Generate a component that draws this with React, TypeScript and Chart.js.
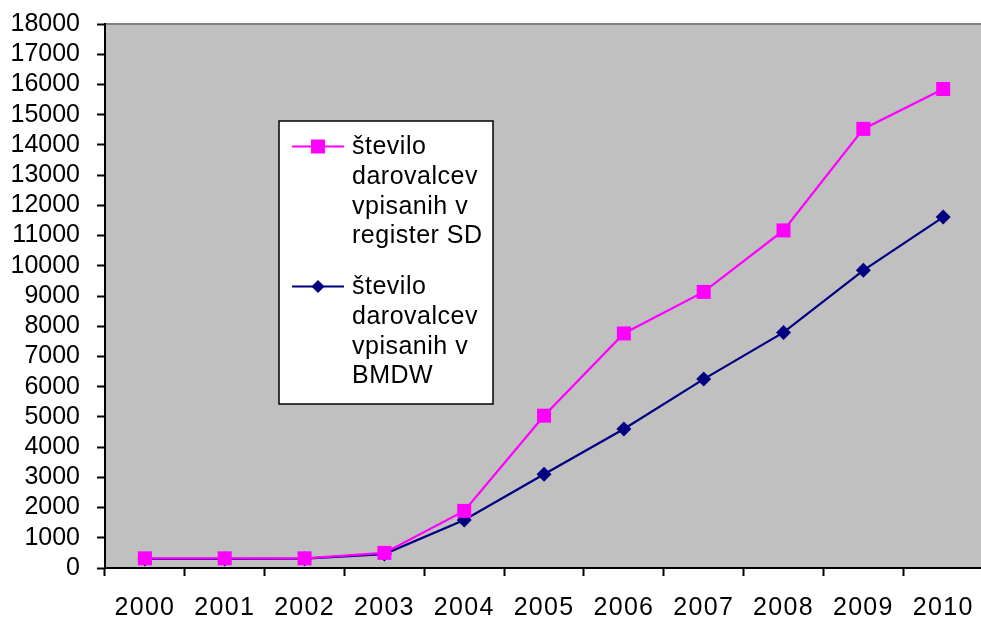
import React, { useEffect, useRef } from "react";
import { Chart, registerables } from "chart.js";

Chart.register(...registerables);

const categories = ["2000", "2001", "2002", "2003", "2004", "2005", "2006", "2007", "2008", "2009", "2010"];
const registerSD = [320, 320, 320, 500, 1890, 5040, 7760, 9135, 11170, 14530, 15850];
const registerBMDW = [300, 300, 310, 460, 1590, 3100, 4600, 6250, 7795, 9850, 11610];
const labelSD = ["število", "darovalcev", "vpisanih v", "register SD"];
const labelBMDW = ["število", "darovalcev", "vpisanih v", "BMDW"];

const FONT = "'Liberation Sans', Arial, sans-serif";
const MAGENTA = "#ff00ff";
const NAVY = "#000080";

const bgPlugin = {
  id: "plotBg",
  beforeDraw(chart: any) {
    const { ctx, chartArea: a } = chart;
    ctx.save();
    ctx.fillStyle = "#c0c0c0";
    ctx.fillRect(a.left, a.top, a.right - a.left, a.bottom - a.top);
    ctx.strokeStyle = "#808080";
    ctx.lineWidth = 2;
    ctx.beginPath();
    ctx.moveTo(a.left, a.top);
    ctx.lineTo(a.right, a.top);
    ctx.stroke();
    ctx.restore();
  },
};

const legendPlugin = {
  id: "boxLegend",
  afterDraw(chart: any) {
    const { ctx, chartArea: a } = chart;
    const bx = a.left + 174;
    const by = a.top + 97;
    const bw = 214;
    const bh = 283;
    ctx.save();
    ctx.fillStyle = "#ffffff";
    ctx.fillRect(bx, by, bw, bh);
    ctx.strokeStyle = "#000000";
    ctx.lineWidth = 1.5;
    ctx.strokeRect(bx, by, bw, bh);
    ctx.font = `25px ${FONT}`;
    (ctx as any).letterSpacing = "0.5px";
    ctx.fillStyle = "#000000";
    ctx.textBaseline = "middle";
    ctx.textAlign = "left";
    const items = [
      { lines: labelSD, color: MAGENTA, style: "rect", y0: 146.5 },
      { lines: labelBMDW, color: NAVY, style: "rectRot", y0: 286.5 },
    ];
    const pitch = 29.6;
    items.forEach((it) => {
      const ly = a.top + it.y0 - 23 - 1;
      ctx.strokeStyle = it.color;
      ctx.lineWidth = 2;
      ctx.beginPath();
      ctx.moveTo(a.left + 187, ly);
      ctx.lineTo(a.left + 239, ly);
      ctx.stroke();
      ctx.fillStyle = it.color;
      const cx = a.left + 213;
      if (it.style === "rect") {
        ctx.fillRect(cx - 7, ly - 7, 14, 14);
      } else {
        ctx.beginPath();
        ctx.moveTo(cx - 6.5, ly);
        ctx.lineTo(cx, ly - 6.5);
        ctx.lineTo(cx + 6.5, ly);
        ctx.lineTo(cx, ly + 6.5);
        ctx.closePath();
        ctx.fill();
      }
      ctx.fillStyle = "#000000";
      it.lines.forEach((t, i) => {
        ctx.fillText(t, a.left + 247, a.top + it.y0 - 23 + i * pitch);
      });
    });
    ctx.restore();
  },
};

function spaceLabels(scale: any, spacing: string) {
  if (scale.__spaced) return;
  scale.__spaced = true;
  const orig = scale.drawLabels;
  scale.drawLabels = function (area: any) {
    const ctx = this.ctx;
    ctx.save();
    ctx.letterSpacing = spacing;
    orig.call(this, area);
    ctx.restore();
  };
}

export default function App() {
  const ref = useRef<HTMLCanvasElement | null>(null);
  useEffect(() => {
    document.body.style.margin = "0";
    const canvas = ref.current!;
    const chart = new Chart(canvas, {
      type: "line",
      data: {
        labels: categories,
        datasets: [
          {
            label: labelSD.join(" "),
            data: registerSD,
            borderColor: MAGENTA,
            backgroundColor: MAGENTA,
            borderWidth: 2.25,
            pointStyle: "rect",
            pointRadius: 9.9,
            pointBorderWidth: 0,
            pointBackgroundColor: MAGENTA,
            tension: 0,
          },
          {
            label: labelBMDW.join(" "),
            data: registerBMDW,
            borderColor: NAVY,
            backgroundColor: NAVY,
            borderWidth: 2.25,
            pointStyle: "rectRot",
            pointRadius: 7.5,
            pointBorderWidth: 0,
            pointBackgroundColor: NAVY,
            tension: 0,
          },
        ],
      },
      options: {
        responsive: false,
        animation: false,
        devicePixelRatio: 1,
        layout: { padding: { top: 15, left: 0, right: 0, bottom: 0 } },
        plugins: {
          legend: { display: false },
          tooltip: { enabled: false },
          title: { display: false },
        },
        scales: {
          x: {
            type: "category",
            offset: true,
            grid: {
              offset: true,
              drawOnChartArea: false,
              drawTicks: true,
              tickLength: 8,
              tickColor: "#000000",
              tickWidth: 2,
            },
            border: { display: true, color: "#000000", width: 2 },
            ticks: {
              color: "#000000",
              font: { family: FONT, size: 25 },
              padding: 17,
              maxRotation: 0,
              autoSkip: false,
            },
            afterFit(scale: any) {
              scale.height = 50;
              spaceLabels(scale, "1.3px");
            },
          },
          y: {
            min: 0,
            max: 18000,
            grid: {
              drawOnChartArea: false,
              drawTicks: true,
              tickLength: 8,
              tickColor: "#000000",
              tickWidth: 2,
            },
            border: { display: true, color: "#000000", width: 2 },
            ticks: {
              stepSize: 1000,
              autoSkip: false,
              color: "#000000",
              font: { family: FONT, size: 25 },
              padding: 17,
              callback: (v: any) => String(v),
            },
            afterFit(scale: any) {
              scale.width = 105;
            },
          },
        },
      },
      plugins: [bgPlugin, legendPlugin],
    });
    return () => chart.destroy();
  }, []);
  return (
    <div style={{ position: "fixed", left: 0, top: 0, width: 981, height: 618, overflow: "hidden", background: "#fff" }}>
      <canvas ref={ref} width={993} height={626} style={{ display: "block", marginTop: -8 }} />
    </div>
  );
}
